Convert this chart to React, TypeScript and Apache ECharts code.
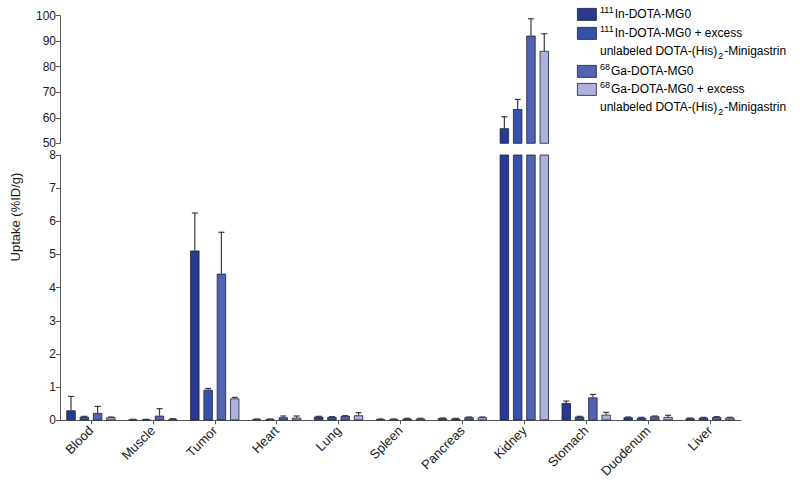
import React, { useEffect, useRef } from 'react';
import * as echarts from 'echarts';

const categories = ['Blood', 'Muscle', 'Tumor', 'Heart', 'Lung', 'Spleen', 'Pancreas', 'Kidney', 'Stomach', 'Duodenum', 'Liver'];

const inMg0 = [0.30, 0.02, 5.12, 0.03, 0.11, 0.03, 0.06, 55.9, 0.52, 0.09, 0.06];
const inMg0Sd = [0.42, 0.01, 1.13, 0.01, 0.01, 0.01, 0.01, 4.5, 0.06, 0.01, 0.01];
const inMg0Block = [0.11, 0.02, 0.92, 0.03, 0.10, 0.03, 0.05, 63.4, 0.11, 0.08, 0.08];
const inMg0BlockSd = [0.01, 0.01, 0.04, 0.01, 0.01, 0.01, 0.01, 3.8, 0.01, 0.01, 0.01];
const gaMg0 = [0.22, 0.14, 4.42, 0.09, 0.13, 0.05, 0.09, 92.2, 0.69, 0.12, 0.10];
const gaMg0Sd = [0.20, 0.21, 1.25, 0.04, 0.01, 0.01, 0.01, 6.6, 0.09, 0.01, 0.01];
const gaMg0Block = [0.09, 0.03, 0.66, 0.08, 0.15, 0.05, 0.09, 86.2, 0.17, 0.10, 0.08];
const gaMg0BlockSd = [0.01, 0.02, 0.03, 0.05, 0.08, 0.01, 0.01, 6.7, 0.07, 0.05, 0.01];

const upperTicks = { min: 50, max: 100, interval: 10 };
const lowerTicks = { min: 0, max: 8, interval: 1 };

const seriesNames = [
  '111In-DOTA-MG0',
  '111In-DOTA-MG0 + excess unlabeled DOTA-(His)2-Minigastrin',
  '68Ga-DOTA-MG0',
  '68Ga-DOTA-MG0 + excess unlabeled DOTA-(His)2-Minigastrin',
];
const legendRich = [
  '{sup|111}{n|In-DOTA-MG0}',
  '{sup|111}{n|In-DOTA-MG0 + excess}\n{n|unlabeled DOTA-(His)}{sub|2}{n|-Minigastrin}',
  '{sup|68}{n|Ga-DOTA-MG0}',
  '{sup|68}{n|Ga-DOTA-MG0 + excess}\n{n|unlabeled DOTA-(His)}{sub|2}{n|-Minigastrin}',
];
const colors = ['#283a90', '#3551a8', '#5263b2', '#aeb1db'];

const BAR_W = 9.3;
const BAR_GAP = 0.43;
const FONT = 'Liberation Sans, Arial, sans-serif';

export default function App() {
  const ref = useRef<HTMLDivElement>(null);
  useEffect(() => {
    if (!ref.current) return;
    const chart = echarts.init(ref.current, undefined, { renderer: 'svg' });
    const values = [inMg0, inMg0Block, gaMg0, gaMg0Block];
    const sds = [inMg0Sd, inMg0BlockSd, gaMg0Sd, gaMg0BlockSd];
    const step = BAR_W * (1 + BAR_GAP);

    const axisLine = { show: true, lineStyle: { color: '#555', width: 1 } };
    const axisTick = { show: true, length: 4, lineStyle: { color: '#555' } };

    const series: any[] = [];
    [0, 1].forEach((g) => {
      const range = g === 0 ? upperTicks : lowerTicks;
      values.forEach((vals, i) => {
        series.push({
          type: 'bar',
          name: seriesNames[i],
          xAxisIndex: g,
          yAxisIndex: g,
          barWidth: BAR_W,
          barGap: `${BAR_GAP * 100}%`,
          clip: true,
          data: vals.map((v) => (g === 0 ? (v >= range.min ? v : '-') : v)),
          itemStyle: { color: colors[i], borderColor: '#1c1f3c', borderWidth: 0.8 },
          z: 2,
        });
      });
      values.forEach((vals, i) => {
        const data: any[] = [];
        vals.forEach((v, c) => {
          if (v >= range.min && v <= range.max) data.push([c, v, sds[i][c]]);
        });
        const offset = (i - 1.5) * step;
        series.push({
          type: 'custom',
          xAxisIndex: g,
          yAxisIndex: g,
          z: 3,
          silent: true,
          data,
          renderItem: (_p: any, api: any) => {
            const c = api.value(0);
            const v = api.value(1);
            const e = api.value(2);
            const base = api.coord([c, v]);
            const top = api.coord([c, v + e]);
            const x = base[0] + offset;
            const st = { stroke: '#3a3a3a', lineWidth: 1.2 };
            return {
              type: 'group',
              children: [
                { type: 'line', shape: { x1: x, y1: base[1], x2: x, y2: top[1] }, style: st },
                { type: 'line', shape: { x1: x - 3, y1: top[1], x2: x + 3, y2: top[1] }, style: st },
              ],
            };
          },
        });
      });
    });

    const rich = {
      n: { fontSize: 12, fontFamily: FONT, color: '#1a1a1a', lineHeight: 18 },
      sup: { fontSize: 9, fontFamily: FONT, color: '#1a1a1a', lineHeight: 18, verticalAlign: 'top', padding: [0, 1, 0, 0] },
      sub: { fontSize: 9, fontFamily: FONT, color: '#1a1a1a', lineHeight: 18, verticalAlign: 'bottom', padding: [0, 1, 0, 1] },
    };
    const legendTops = [5, 24, 62, 80];
    const boxTops = [8, 27, 65, 83];
    const graphic: any[] = [];
    legendRich.forEach((t, i) => {
      graphic.push({
        type: 'rect',
        left: 577,
        top: boxTops[i],
        shape: { x: 0, y: 0, width: 19, height: 12 },
        style: { fill: colors[i], stroke: '#1c1f3c', lineWidth: 0.8 },
      });
      graphic.push({
        type: 'text',
        x: 600,
        y: legendTops[i],
        style: { text: t, rich, verticalAlign: 'top', align: 'left' },
      });
    });
    graphic.push({
      type: 'text',
      x: 15,
      y: 217,
      rotation: Math.PI / 2,
      style: {
        text: 'Uptake (%ID/g)',
        fontSize: 13,
        fontFamily: FONT,
        fill: '#1a1a1a',
        align: 'center',
        verticalAlign: 'middle',
      },
    });

    chart.setOption({
      animation: false,
      backgroundColor: '#fff',
      textStyle: { fontFamily: FONT },
      grid: [
        { left: 60, right: 59, top: 15.7, height: 127.6 },
        { left: 60, right: 59, top: 155, height: 265.3 },
      ],
      xAxis: [
        {
          type: 'category',
          gridIndex: 0,
          data: categories,
          show: false,
        },
        {
          type: 'category',
          gridIndex: 1,
          data: categories,
          axisLine,
          axisTick: { ...axisTick, alignWithLabel: true },
          axisLabel: { rotate: 45, fontSize: 13, color: '#1a1a1a', margin: 8, interval: 0, fontFamily: FONT },
        },
      ],
      yAxis: [
        {
          type: 'value',
          gridIndex: 0,
          ...upperTicks,
          axisLine,
          axisTick,
          splitLine: { show: false },
          axisLabel: { fontSize: 12, color: '#1a1a1a', margin: 4, fontFamily: FONT },
        },
        {
          type: 'value',
          gridIndex: 1,
          ...lowerTicks,
          axisLine,
          axisTick,
          splitLine: { show: false },
          axisLabel: { fontSize: 12, color: '#1a1a1a', margin: 4, fontFamily: FONT },
        },
      ],
      series,
      graphic,
    });
    return () => chart.dispose();
  }, []);
  return <div ref={ref} style={{ width: 800, height: 483, position: 'absolute', left: 0, top: 0 }} />;
}
